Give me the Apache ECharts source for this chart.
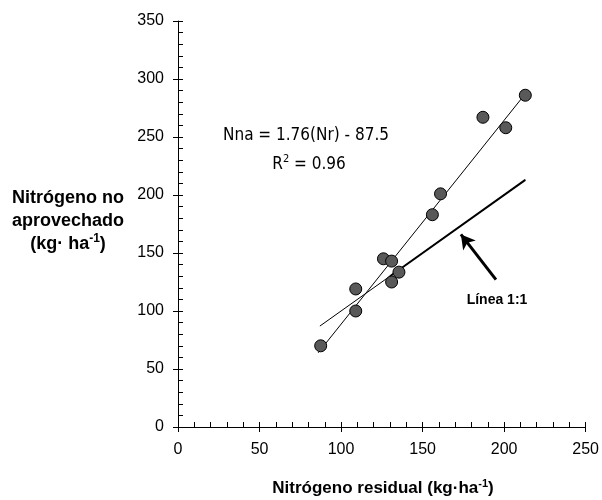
<!DOCTYPE html>
<html>
<head>
<meta charset="utf-8">
<script src="https://cdn.jsdelivr.net/npm/echarts@6/dist/echarts.min.js"></script>
<style>
html, body { margin: 0; padding: 0; background: #fff; }
#chart { width: 602px; height: 500px; }
</style>
</head>
<body>
<div id="chart"></div>
<script>
// valores
var residual = [87.5, 109, 109, 126, 131, 135.5, 131, 156, 161, 187, 201, 213];
var notUsed = [70, 100, 119, 145, 143, 133.5, 125, 183, 201, 267, 258, 286];
var fitLine = [[86, 64], [214, 289]];
var oneToOne = [[87, 87], [213, 213]];
var oneToOneBold = [[130, 130], [213, 213]];
var arrowFrom = [195, 127];
var arrowTo = [173.5, 166];
var xTicks = [0, 50, 100, 150, 200, 250];
var yTicks = [0, 50, 100, 150, 200, 250, 300, 350];

var points = residual.map(function(x, i) {
	return [x, notUsed[i]];
});

var tickFont = {
	color : '#000',
	fontSize : 16,
	fontFamily : 'Liberation Sans, Arial, sans-serif'
};

function mainAxis(ticks, pos, margin) {
	return {
		type : 'value',
		position : pos,
		min : ticks[0],
		max : ticks[ticks.length - 1],
		interval : ticks[1] - ticks[0],
		axisLine : { show : true, onZero : false, lineStyle : { color : '#000', width : 1 } },
		axisTick : { show : true, inside : false, length : 5, lineStyle : { color : '#000' } },
		axisLabel : Object.assign({ margin : margin }, tickFont),
		splitLine : { show : false }
	};
}

// eje superpuesto solo para las marcas interiores (mayores y menores)
function innerAxis(ticks, pos) {
	return {
		type : 'value',
		position : pos,
		min : ticks[0],
		max : ticks[ticks.length - 1],
		interval : ticks[1] - ticks[0],
		axisLine : { show : false, onZero : false },
		axisTick : { show : true, inside : true, length : 5, lineStyle : { color : '#000' } },
		minorTick : { show : true, splitNumber : 5, length : 5, lineStyle : { color : '#000' } },
		axisLabel : { show : false },
		splitLine : { show : false },
		minorSplitLine : { show : false }
	};
}

var boldFont = 'Liberation Sans, Arial, sans-serif';
var eqFont = 'DejaVu Sans Condensed, DejaVu Sans, sans-serif';

var option = {
	animation : false,
	backgroundColor : '#fff',
	grid : { left : 178, right : 16, top : 21, bottom : 73 },
	xAxis : [ mainAxis(xTicks, 'bottom', 15), innerAxis(xTicks, 'bottom') ],
	yAxis : [ mainAxis(yTicks, 'left', 14), innerAxis(yTicks, 'left') ],
	graphic : [ {
		type : 'text',
		x : 68,
		y : 187,
		style : {
			text : '{b|Nitrógeno no}\n{b|aprovechado}\n{b|(kg· ha}{s|-1}{b|)}',
			align : 'center',
			rich : {
				b : { fontSize : 18, fontWeight : 'bold', fontFamily : boldFont, lineHeight : 23, color : '#000' },
				s : { fontSize : 12, fontWeight : 'bold', fontFamily : boldFont, verticalAlign : 'top', lineHeight : 23, padding : [0, 0, 6, 0], color : '#000' }
			}
		}
	}, {
		type : 'text',
		x : 383,
		y : 478,
		style : {
			text : '{b|Nitrógeno residual (kg·ha}{s|-1}{b|)}',
			align : 'center',
			rich : {
				b : { fontSize : 17, fontWeight : 'bold', fontFamily : boldFont, lineHeight : 21, color : '#000' },
				s : { fontSize : 11, fontWeight : 'bold', fontFamily : boldFont, verticalAlign : 'top', lineHeight : 21, padding : [0, 0, 6, 0], color : '#000' }
			}
		}
	}, {
		type : 'text',
		x : 306,
		y : 127,
		style : {
			text : 'Nna = 1.76(Nr) - 87.5',
			align : 'center',
			fontSize : 17,
			fontFamily : eqFont,
			fill : '#000'
		}
	}, {
		type : 'text',
		x : 309,
		y : 154,
		style : {
			text : '{t|R}{s|2}{t| = 0.96}',
			align : 'center',
			rich : {
				t : { fontSize : 17, fontFamily : eqFont, lineHeight : 22, color : '#000' },
				s : { fontSize : 11, fontFamily : eqFont, verticalAlign : 'top', lineHeight : 22, padding : [0, 0, 7, 0], color : '#000' }
			}
		}
	}, {
		type : 'text',
		x : 497,
		y : 293,
		style : {
			text : 'Línea 1:1',
			align : 'center',
			fontSize : 14,
			fontWeight : 'bold',
			fontFamily : boldFont,
			fill : '#000'
		}
	} ],
	series : [ {
		name : 'ajuste',
		type : 'line',
		data : fitLine,
		symbol : 'none',
		lineStyle : { color : '#000', width : 1 },
		z : 2,
		markLine : {
			silent : true,
			symbol : [ 'none', 'arrow' ],
			symbolSize : [ 12, 14 ],
			label : { show : false },
			lineStyle : { color : '#000', width : 3, type : 'solid' },
			data : [ [ { coord : arrowFrom }, { coord : arrowTo } ] ]
		}
	}, {
		name : 'linea 1:1',
		type : 'line',
		data : oneToOne,
		symbol : 'none',
		lineStyle : { color : '#000', width : 1 },
		z : 2
	}, {
		name : 'linea 1:1 gruesa',
		type : 'line',
		data : oneToOneBold,
		symbol : 'none',
		lineStyle : { color : '#000', width : 2 },
		z : 2
	}, {
		name : 'datos',
		type : 'scatter',
		data : points,
		symbol : 'circle',
		symbolSize : 12,
		itemStyle : { color : '#595959', borderColor : '#000', borderWidth : 1, opacity : 1 },
		z : 3
	} ]
};

var chart = echarts.init(document.getElementById('chart'));
chart.setOption(option);
</script>
</body>
</html>
